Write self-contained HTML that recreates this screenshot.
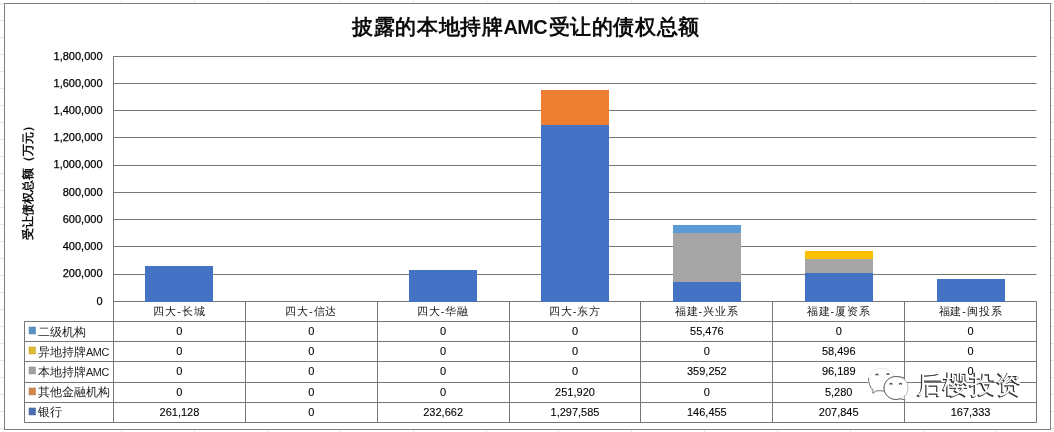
<!DOCTYPE html><html><head><meta charset="utf-8"><style>html,body{margin:0;padding:0;background:#fff;width:1054px;height:432px;overflow:hidden}svg{display:block;will-change:transform}text{font-family:"Liberation Sans",sans-serif;fill:#1a1a1a}.n{fill:#000;stroke:#000;stroke-width:0.25px}.m{fill:#000;stroke:#000;stroke-width:0.1px}</style></head><body>
<svg width="1054" height="432" viewBox="0 0 1054 432">
<g stroke="#e6e6e6" stroke-width="1">
<line x1="0" y1="3.5" x2="4" y2="3.5"/>
<line x1="1051" y1="3.5" x2="1054" y2="3.5"/>
<line x1="0" y1="20.5" x2="4" y2="20.5"/>
<line x1="1051" y1="20.5" x2="1054" y2="20.5"/>
<line x1="0" y1="37.5" x2="4" y2="37.5"/>
<line x1="1051" y1="37.5" x2="1054" y2="37.5"/>
<line x1="0" y1="54.5" x2="4" y2="54.5"/>
<line x1="1051" y1="54.5" x2="1054" y2="54.5"/>
<line x1="0" y1="71.5" x2="4" y2="71.5"/>
<line x1="1051" y1="71.5" x2="1054" y2="71.5"/>
<line x1="0" y1="88.5" x2="4" y2="88.5"/>
<line x1="1051" y1="88.5" x2="1054" y2="88.5"/>
<line x1="0" y1="105.5" x2="4" y2="105.5"/>
<line x1="1051" y1="105.5" x2="1054" y2="105.5"/>
<line x1="0" y1="122.5" x2="4" y2="122.5"/>
<line x1="1051" y1="122.5" x2="1054" y2="122.5"/>
<line x1="0" y1="139.5" x2="4" y2="139.5"/>
<line x1="1051" y1="139.5" x2="1054" y2="139.5"/>
<line x1="0" y1="156.5" x2="4" y2="156.5"/>
<line x1="1051" y1="156.5" x2="1054" y2="156.5"/>
<line x1="0" y1="173.5" x2="4" y2="173.5"/>
<line x1="1051" y1="173.5" x2="1054" y2="173.5"/>
<line x1="0" y1="190.5" x2="4" y2="190.5"/>
<line x1="1051" y1="190.5" x2="1054" y2="190.5"/>
<line x1="0" y1="207.5" x2="4" y2="207.5"/>
<line x1="1051" y1="207.5" x2="1054" y2="207.5"/>
<line x1="0" y1="224.5" x2="4" y2="224.5"/>
<line x1="1051" y1="224.5" x2="1054" y2="224.5"/>
<line x1="0" y1="241.5" x2="4" y2="241.5"/>
<line x1="1051" y1="241.5" x2="1054" y2="241.5"/>
<line x1="0" y1="258.5" x2="4" y2="258.5"/>
<line x1="1051" y1="258.5" x2="1054" y2="258.5"/>
<line x1="0" y1="275.5" x2="4" y2="275.5"/>
<line x1="1051" y1="275.5" x2="1054" y2="275.5"/>
<line x1="0" y1="292.5" x2="4" y2="292.5"/>
<line x1="1051" y1="292.5" x2="1054" y2="292.5"/>
<line x1="0" y1="309.5" x2="4" y2="309.5"/>
<line x1="1051" y1="309.5" x2="1054" y2="309.5"/>
<line x1="0" y1="326.5" x2="4" y2="326.5"/>
<line x1="1051" y1="326.5" x2="1054" y2="326.5"/>
<line x1="0" y1="343.5" x2="4" y2="343.5"/>
<line x1="1051" y1="343.5" x2="1054" y2="343.5"/>
<line x1="0" y1="360.5" x2="4" y2="360.5"/>
<line x1="1051" y1="360.5" x2="1054" y2="360.5"/>
<line x1="0" y1="377.5" x2="4" y2="377.5"/>
<line x1="1051" y1="377.5" x2="1054" y2="377.5"/>
<line x1="0" y1="394.5" x2="4" y2="394.5"/>
<line x1="1051" y1="394.5" x2="1054" y2="394.5"/>
<line x1="0" y1="411.5" x2="4" y2="411.5"/>
<line x1="1051" y1="411.5" x2="1054" y2="411.5"/>
<line x1="0" y1="428.5" x2="4" y2="428.5"/>
<line x1="1051" y1="428.5" x2="1054" y2="428.5"/>
<line x1="121.5" y1="0" x2="121.5" y2="3"/>
<line x1="121.5" y1="430" x2="121.5" y2="432"/>
<line x1="194.5" y1="0" x2="194.5" y2="3"/>
<line x1="194.5" y1="430" x2="194.5" y2="432"/>
<line x1="267.5" y1="0" x2="267.5" y2="3"/>
<line x1="267.5" y1="430" x2="267.5" y2="432"/>
<line x1="340.5" y1="0" x2="340.5" y2="3"/>
<line x1="340.5" y1="430" x2="340.5" y2="432"/>
<line x1="413.5" y1="0" x2="413.5" y2="3"/>
<line x1="413.5" y1="430" x2="413.5" y2="432"/>
<line x1="486.5" y1="0" x2="486.5" y2="3"/>
<line x1="486.5" y1="430" x2="486.5" y2="432"/>
<line x1="558.5" y1="0" x2="558.5" y2="3"/>
<line x1="558.5" y1="430" x2="558.5" y2="432"/>
<line x1="631.5" y1="0" x2="631.5" y2="3"/>
<line x1="631.5" y1="430" x2="631.5" y2="432"/>
<line x1="704.5" y1="0" x2="704.5" y2="3"/>
<line x1="704.5" y1="430" x2="704.5" y2="432"/>
<line x1="777.5" y1="0" x2="777.5" y2="3"/>
<line x1="777.5" y1="430" x2="777.5" y2="432"/>
<line x1="850.5" y1="0" x2="850.5" y2="3"/>
<line x1="850.5" y1="430" x2="850.5" y2="432"/>
<line x1="923.5" y1="0" x2="923.5" y2="3"/>
<line x1="923.5" y1="430" x2="923.5" y2="432"/>
<line x1="996.5" y1="0" x2="996.5" y2="3"/>
<line x1="996.5" y1="430" x2="996.5" y2="432"/>
<line x1="1069.5" y1="0" x2="1069.5" y2="3"/>
<line x1="1069.5" y1="430" x2="1069.5" y2="432"/>
</g>
<rect x="4.5" y="3.5" width="1046" height="426" fill="#fff" stroke="#7f7f7f" stroke-width="1"/>
<text x="526" y="34" text-anchor="middle" style="font-size:21px;font-weight:bold;fill:#0d0d0d;letter-spacing:0.6px">披露的本地持牌<tspan style="letter-spacing:-0.6px;font-size:20px">AMC</tspan><tspan dx="1.5">受让的债权总额</tspan></text>
<text transform="translate(31.5,203.6) rotate(-90)" text-anchor="middle" style="font-size:11.8px;font-weight:bold;fill:#0d0d0d">受让债权总额</text>
<text transform="translate(31.5,143.6) rotate(-90)" text-anchor="middle" style="font-size:11.8px;font-weight:bold;fill:#0d0d0d">（万元）</text>
<g stroke="#767676" stroke-width="1">
<line x1="113.5" y1="301.50" x2="1036.5" y2="301.50"/>
<line x1="113.5" y1="274.50" x2="1036.5" y2="274.50"/>
<line x1="113.5" y1="246.50" x2="1036.5" y2="246.50"/>
<line x1="113.5" y1="219.50" x2="1036.5" y2="219.50"/>
<line x1="113.5" y1="192.50" x2="1036.5" y2="192.50"/>
<line x1="113.5" y1="165.50" x2="1036.5" y2="165.50"/>
<line x1="113.5" y1="137.50" x2="1036.5" y2="137.50"/>
<line x1="113.5" y1="110.50" x2="1036.5" y2="110.50"/>
<line x1="113.5" y1="83.50" x2="1036.5" y2="83.50"/>
<line x1="113.5" y1="56.50" x2="1036.5" y2="56.50"/>
</g>
<text x="102.5" y="304.60" text-anchor="end" class="n" style="font-size:11px">0</text>
<text x="102.5" y="277.38" text-anchor="end" class="n" style="font-size:11px">200,000</text>
<text x="102.5" y="250.16" text-anchor="end" class="n" style="font-size:11px">400,000</text>
<text x="102.5" y="222.93" text-anchor="end" class="n" style="font-size:11px">600,000</text>
<text x="102.5" y="195.71" text-anchor="end" class="n" style="font-size:11px">800,000</text>
<text x="102.5" y="168.49" text-anchor="end" class="n" style="font-size:11px">1,000,000</text>
<text x="102.5" y="141.27" text-anchor="end" class="n" style="font-size:11px">1,200,000</text>
<text x="102.5" y="114.04" text-anchor="end" class="n" style="font-size:11px">1,400,000</text>
<text x="102.5" y="86.82" text-anchor="end" class="n" style="font-size:11px">1,600,000</text>
<text x="102.5" y="59.60" text-anchor="end" class="n" style="font-size:11px">1,800,000</text>
<rect x="145" y="266" width="68" height="36" fill="#4472C4"/>
<rect x="409" y="270" width="68" height="32" fill="#4472C4"/>
<rect x="541" y="125" width="68" height="177" fill="#4472C4"/>
<rect x="541" y="90" width="68" height="35" fill="#ED7D31"/>
<rect x="673" y="282" width="68" height="20" fill="#4472C4"/>
<rect x="673" y="233" width="68" height="49" fill="#A5A5A5"/>
<rect x="673" y="225" width="68" height="8" fill="#5B9BD5"/>
<rect x="805" y="273" width="68" height="29" fill="#4472C4"/>
<rect x="805" y="259" width="68" height="14" fill="#A5A5A5"/>
<rect x="805" y="251" width="68" height="8" fill="#FFC000"/>
<rect x="937" y="279" width="68" height="23" fill="#4472C4"/>
<g stroke="#767676" stroke-width="1" fill="none">
<line x1="113.5" y1="56.5" x2="113.5" y2="422.5"/>
<line x1="245.50" y1="301.5" x2="245.50" y2="422.5"/>
<line x1="377.50" y1="301.5" x2="377.50" y2="422.5"/>
<line x1="509.50" y1="301.5" x2="509.50" y2="422.5"/>
<line x1="640.50" y1="301.5" x2="640.50" y2="422.5"/>
<line x1="772.50" y1="301.5" x2="772.50" y2="422.5"/>
<line x1="904.50" y1="301.5" x2="904.50" y2="422.5"/>
<line x1="1036.50" y1="301.5" x2="1036.50" y2="422.5"/>
<line x1="24.5" y1="321.50" x2="1036.5" y2="321.50"/>
<line x1="24.5" y1="341.50" x2="1036.5" y2="341.50"/>
<line x1="24.5" y1="361.50" x2="1036.5" y2="361.50"/>
<line x1="24.5" y1="382.50" x2="1036.5" y2="382.50"/>
<line x1="24.5" y1="402.50" x2="1036.5" y2="402.50"/>
<line x1="24.5" y1="422.50" x2="1036.5" y2="422.50"/>
<line x1="24.5" y1="321.5" x2="24.5" y2="422.5"/>
</g>
<text x="179.43" y="315.2" text-anchor="middle" style="font-size:11px;letter-spacing:0.9px">四大-长城</text>
<text x="311.29" y="315.2" text-anchor="middle" style="font-size:11px;letter-spacing:0.9px">四大-信达</text>
<text x="443.14" y="315.2" text-anchor="middle" style="font-size:11px;letter-spacing:0.9px">四大-华融</text>
<text x="575.00" y="315.2" text-anchor="middle" style="font-size:11px;letter-spacing:0.9px">四大-东方</text>
<text x="706.86" y="315.2" text-anchor="middle" style="font-size:11px;letter-spacing:0.9px">福建-兴业系</text>
<text x="838.71" y="315.2" text-anchor="middle" style="font-size:11px;letter-spacing:0.9px">福建-厦资系</text>
<text x="970.57" y="315.2" text-anchor="middle" style="font-size:11px;letter-spacing:0.9px">福建-闽投系</text>
<rect x="29.2" y="327.16" width="6" height="6.6" fill="#5a92c6" stroke="#4a82b4" stroke-width="0.9"/>
<text x="38" y="335.60" style="font-size:11.5px">二级机构</text>
<text x="179.43" y="334.80" text-anchor="middle" class="m" style="font-size:11px">0</text>
<text x="311.29" y="334.80" text-anchor="middle" class="m" style="font-size:11px">0</text>
<text x="443.14" y="334.80" text-anchor="middle" class="m" style="font-size:11px">0</text>
<text x="575.00" y="334.80" text-anchor="middle" class="m" style="font-size:11px">0</text>
<text x="706.86" y="334.80" text-anchor="middle" class="m" style="font-size:11px">55,476</text>
<text x="838.71" y="334.80" text-anchor="middle" class="m" style="font-size:11px">0</text>
<text x="970.57" y="334.80" text-anchor="middle" class="m" style="font-size:11px">0</text>
<rect x="29.2" y="347.16" width="6" height="6.6" fill="#e0bd30" stroke="#c9a520" stroke-width="0.9"/>
<text x="38" y="355.72" style="font-size:11.5px">异地持牌<tspan style="font-size:10.8px;letter-spacing:-0.4px">AMC</tspan></text>
<text x="179.43" y="355.07" text-anchor="middle" class="m" style="font-size:11px">0</text>
<text x="311.29" y="355.07" text-anchor="middle" class="m" style="font-size:11px">0</text>
<text x="443.14" y="355.07" text-anchor="middle" class="m" style="font-size:11px">0</text>
<text x="575.00" y="355.07" text-anchor="middle" class="m" style="font-size:11px">0</text>
<text x="706.86" y="355.07" text-anchor="middle" class="m" style="font-size:11px">0</text>
<text x="838.71" y="355.07" text-anchor="middle" class="m" style="font-size:11px">58,496</text>
<text x="970.57" y="355.07" text-anchor="middle" class="m" style="font-size:11px">0</text>
<rect x="29.2" y="367.16" width="6" height="6.6" fill="#a2a2a2" stroke="#8c8c8c" stroke-width="0.9"/>
<text x="38" y="375.84" style="font-size:11.5px">本地持牌<tspan style="font-size:10.8px;letter-spacing:-0.4px">AMC</tspan></text>
<text x="179.43" y="375.34" text-anchor="middle" class="m" style="font-size:11px">0</text>
<text x="311.29" y="375.34" text-anchor="middle" class="m" style="font-size:11px">0</text>
<text x="443.14" y="375.34" text-anchor="middle" class="m" style="font-size:11px">0</text>
<text x="575.00" y="375.34" text-anchor="middle" class="m" style="font-size:11px">0</text>
<text x="706.86" y="375.34" text-anchor="middle" class="m" style="font-size:11px">359,252</text>
<text x="838.71" y="375.34" text-anchor="middle" class="m" style="font-size:11px">96,189</text>
<text x="970.57" y="375.34" text-anchor="middle" class="m" style="font-size:11px">0</text>
<rect x="29.2" y="388.16" width="6" height="6.6" fill="#d48646" stroke="#bd7a45" stroke-width="0.9"/>
<text x="38" y="395.96" style="font-size:11.5px">其他金融机构</text>
<text x="179.43" y="395.61" text-anchor="middle" class="m" style="font-size:11px">0</text>
<text x="311.29" y="395.61" text-anchor="middle" class="m" style="font-size:11px">0</text>
<text x="443.14" y="395.61" text-anchor="middle" class="m" style="font-size:11px">0</text>
<text x="575.00" y="395.61" text-anchor="middle" class="m" style="font-size:11px">251,920</text>
<text x="706.86" y="395.61" text-anchor="middle" class="m" style="font-size:11px">0</text>
<text x="838.71" y="395.61" text-anchor="middle" class="m" style="font-size:11px">5,280</text>
<rect x="29.2" y="408.16" width="6" height="6.6" fill="#4a6cb0" stroke="#3d5f9e" stroke-width="0.9"/>
<text x="38" y="416.08" style="font-size:11.5px">银行</text>
<text x="179.43" y="415.88" text-anchor="middle" class="m" style="font-size:11px">261,128</text>
<text x="311.29" y="415.88" text-anchor="middle" class="m" style="font-size:11px">0</text>
<text x="443.14" y="415.88" text-anchor="middle" class="m" style="font-size:11px">232,662</text>
<text x="575.00" y="415.88" text-anchor="middle" class="m" style="font-size:11px">1,297,585</text>
<text x="706.86" y="415.88" text-anchor="middle" class="m" style="font-size:11px">146,455</text>
<text x="838.71" y="415.88" text-anchor="middle" class="m" style="font-size:11px">207,845</text>
<text x="970.57" y="415.88" text-anchor="middle" class="m" style="font-size:11px">167,333</text>
<g fill="#fff" stroke-width="1">
<path d="M873.5,393 C870.5,389 868.5,385 868.5,380.5 C868.5,373.5 874.5,368.5 881.5,368.5 C888.5,368.5 894.5,373 895,378.5 L884,391 L876,390.5 Z" stroke="#e4e4e4"/>
</g>
<path d="M868.5,378 C868.5,383 870,387 873,390 L872.8,393.3 L876.5,391 C878.5,390.5 881,390.5 884,391.2" fill="none" stroke="#6e6e6e" stroke-width="0.9"/>
<path d="M896,376.5 C903,376.5 908,381.5 908,388 C908,391.5 906.5,394.5 904,396.5 L905,400 L900.5,398.7 C899,399.2 897.5,399.5 896,399.5 C889.5,399.5 884,394.5 884,388 C884,381.5 889.5,376.5 896,376.5 Z" fill="#fff" stroke="#b4b4b4" stroke-width="0.9"/>
<path d="M904,377.8 C901.5,376.9 898.8,376.5 896,376.5 C889.5,376.5 884,381.5 884,388 C884,394.5 889.5,399.5 896,399.5 C897.5,399.5 899,399.2 900.5,398.7 L905,400" fill="none" stroke="#5c5c5c" stroke-width="0.9"/>
<g fill="none" stroke="#4a4a4a" stroke-width="1.3">
<path d="M875.8,375.29999999999995 C876,373.59999999999997 878,373.59999999999997 878.2,375.29999999999995"/>
<path d="M886.8,374.79999999999995 C887,373.09999999999997 889,373.09999999999997 889.2,374.79999999999995"/>
<path d="M889.8,384.7 C890,383.0 892,383.0 892.2,384.7"/>
<path d="M899.3,384.7 C899.5,383.0 901.5,383.0 901.7,384.7"/>
</g>
<text x="917" y="393" style="font-size:25.5px;letter-spacing:0.4px;fill:#2a2a2a;stroke:#2a2a2a;stroke-width:0.5px" transform="translate(-1,1.1)">后樱投资</text>
<text x="917" y="393" style="font-size:25.5px;letter-spacing:0.4px;fill:#fff">后樱投资</text>
</svg></body></html>
